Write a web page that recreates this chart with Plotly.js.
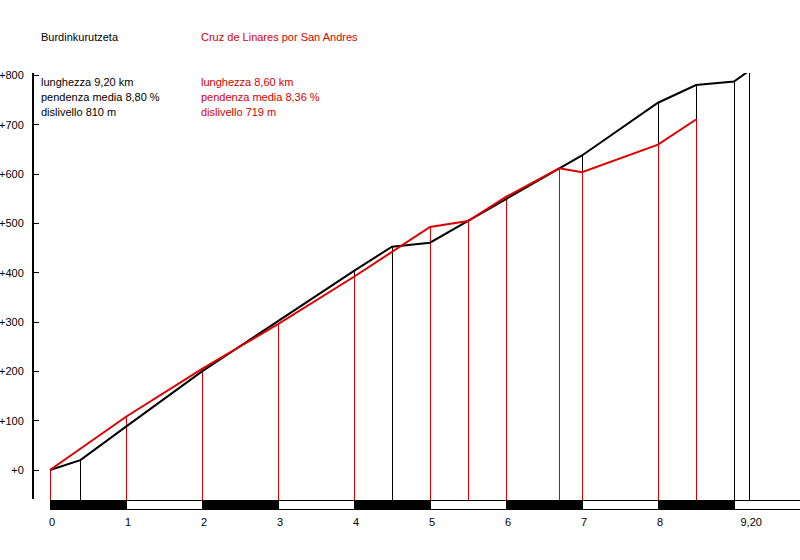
<!DOCTYPE html>
<html>
<head>
<meta charset="utf-8">
<script src="https://cdn.plot.ly/plotly-3.0.1.min.js"></script>
<style>
html,body{margin:0;padding:0;background:#fff}#chart{width:800px;height:560px}
.shapelayer path{shape-rendering:crispEdges}
.subplot.xy .scatterlayer .js-line{shape-rendering:crispEdges}
</style>
</head>
<body>
<div id="chart"></div>
<script>
// Burdinkurutzeta (black)
const blackKm  = [0, 0.4, 1, 2, 4, 4.5, 5, 7, 8, 8.5, 9, 9.2];
const blackAlt = [0, 20, 88, 200, 404, 453, 461, 638, 745, 781, 788, 810];
// Cruz de Linares por San Andres (red)
const redKm  = [0, 1, 2, 3, 4, 5, 5.5, 6, 6.7, 7, 8, 8.5];
const redAlt = [0, 108, 205, 296, 392, 493, 505, 554, 612, 604, 660, 711];

const yTicks = [0, 100, 200, 300, 400, 500, 600, 700, 800];
const yTickText = ['+0', '+100', '+200', '+300', '+400', '+500', '+600', '+700', '+800'];
const xTicks = [0, 1, 2, 3, 4, 5, 6, 7, 8, 9.2];
const xTickText = ['0', '1', '2', '3', '4', '5', '6', '7', '8', '9,20'];

const barStarts = [0, 1, 2, 3, 4, 5, 6, 7, 8, 9];

const blackInfo = ['Burdinkurutzeta', 'lunghezza 9,20 km', 'pendenza media 8,80 %', 'dislivello 810 m'];
const redInfo = ['Cruz de Linares por San Andres', 'lunghezza 8,60 km', 'pendenza media 8,36 %', 'dislivello 719 m'];

const RED = '#dd0000';
const RED_TXT = '#d40000';
const FONT = 'Liberation Sans, Arial, sans-serif';

// geometry (pixels)
const L = 33, R = 0, T = 73, B = 48, W = 800, H = 560;
const x0px = 50, pxPerKm = 76, y0px = 470, pxPerM = 0.493;
const axisBotPx = 499, axisPx = 33.5;
const xmin = (L - x0px) / pxPerKm, xmax = (W - R - x0px) / pxPerKm;
const ymax = (y0px - T) / pxPerM, ymin = (y0px - (H - B)) / pxPerM;
const barTop = (y0px - 500) / pxPerM, barBot = (y0px - 509) / pxPerM;
const axisBot = (y0px - axisBotPx) / pxPerM;
const pw = W - L - R, ph = H - T - B;
const y2DomainLo = (H - B - axisBotPx) / ph;

function drops(xs, ys) {
  const X = [], Y = [];
  xs.forEach((x, i) => { X.push(x, x, null); Y.push(ys[i], barTop, null); });
  return {X, Y};
}
const bd = drops(blackKm, blackAlt);
const rd = drops(redKm, redAlt);

const traces = [
  {type: 'scatter', mode: 'lines', x: bd.X, y: bd.Y, line: {color: '#000', width: 1}, hoverinfo: 'skip', showlegend: false},
  {type: 'scatter', mode: 'lines', x: rd.X, y: rd.Y, line: {color: RED, width: 1}, hoverinfo: 'skip', showlegend: false},
  {type: 'scatter', mode: 'lines', x: blackKm, y: blackAlt, yaxis: 'y2', line: {color: '#000', width: 2}, showlegend: false},
  {type: 'scatter', mode: 'lines', x: redKm, y: redAlt, yaxis: 'y2', line: {color: RED, width: 2}, showlegend: false}
];

const px2x = p => (p - L) / pw;
const py2y = p => (H - B - p) / ph;

// scale bar shapes (alternating km blocks)
const shapes = [];
barStarts.forEach((s, i) => {
  const e = i < barStarts.length - 1 ? barStarts[i + 1] : s + 1;
  shapes.push({type: 'rect', xref: 'x', yref: 'y', x0: s, x1: e, y0: barBot, y1: barTop,
    fillcolor: i % 2 === 0 ? '#000' : '#fff', line: {color: '#000', width: 1}});
});
const lastEnd = barStarts[barStarts.length - 1] + 1;
shapes.push({type: 'rect', xref: 'x', yref: 'y', x0: lastEnd, x1: xmax + 1, y0: barBot, y1: barTop,
  fillcolor: barStarts.length % 2 === 0 ? '#000' : '#fff', line: {color: '#000', width: 1}});
// vertical axis line (paper-referenced, unclipped)
shapes.push({type: 'line', xref: 'paper', yref: 'paper', x0: px2x(axisPx), x1: px2x(axisPx),
  y0: py2y(axisBotPx), y1: py2y(T), line: {color: '#000', width: 1}});

const infoY = [37, 82, 97, 112];
const annotations = [];
blackInfo.forEach((t, i) => annotations.push({text: t, xref: 'paper', yref: 'paper', x: px2x(39), y: py2y(infoY[i]),
  xanchor: 'left', yanchor: 'middle', showarrow: false, font: {family: FONT, size: 11, color: '#000'}}));
redInfo.forEach((t, i) => annotations.push({text: t, xref: 'paper', yref: 'paper', x: px2x(199), y: py2y(infoY[i]),
  xanchor: 'left', yanchor: 'middle', showarrow: false, font: {family: FONT, size: 11, color: RED_TXT}}));

const layout = {
  width: W, height: H,
  margin: {l: L, r: R, t: T, b: B, pad: 0},
  paper_bgcolor: '#fff', plot_bgcolor: 'rgba(0,0,0,0)',
  showlegend: false,
  font: {family: FONT, size: 11, color: '#000'},
  xaxis: {range: [xmin, xmax], showgrid: false, zeroline: false, showline: false,
          tickvals: xTicks, ticktext: xTickText, ticks: '', ticklabelstandoff: 2, ticklabelshift: 2,
          tickfont: {family: FONT, size: 11, color: '#000'}, fixedrange: true},
  yaxis: {range: [ymin, ymax], showgrid: false, zeroline: false, showline: false,
          showticklabels: false, ticks: '', fixedrange: true},
  yaxis2: {domain: [y2DomainLo, 1], anchor: 'x', range: [axisBot, ymax], showgrid: false, zeroline: false,
           showline: true, linecolor: '#000', linewidth: 1,
           tickvals: yTicks, ticktext: yTickText, ticks: 'inside', ticklen: 6, tickcolor: '#000', tickwidth: 1,
           ticklabelstandoff: 6, tickfont: {family: FONT, size: 11, color: '#000'}, fixedrange: true},
  shapes: shapes,
  annotations: annotations
};

Plotly.newPlot('chart', traces, layout, {displayModeBar: false, staticPlot: true});
</script>
</body>
</html>
